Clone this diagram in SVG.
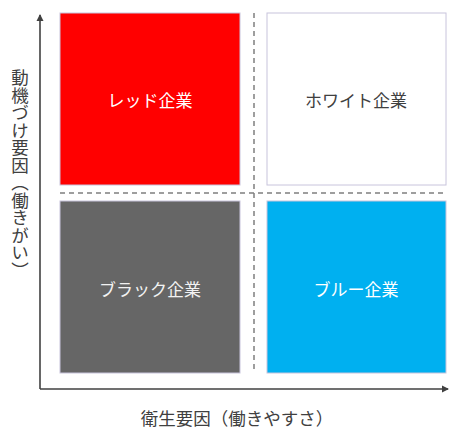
<svg xmlns="http://www.w3.org/2000/svg" width="452" height="429" viewBox="0 0 452 429">
<style>
text{font-family:"Noto Sans CJK JP","Noto Sans CJK SC",sans-serif;}
.lbl{font-size:17px;text-anchor:middle;}
.ax{stroke:#404040;stroke-width:1.6;fill:none;}
.dash{stroke:#7f7f7f;stroke-width:1.5;stroke-dasharray:5,4;fill:none;}
.box{stroke:#c8c4dc;stroke-width:1;}
.axlbl{font-size:17.5px;fill:#404040;}
</style>
<defs>
<marker id="arr" markerWidth="8" markerHeight="8" refX="6" refY="4" orient="auto" markerUnits="userSpaceOnUse">
<path d="M0,0.5 L7,4 L0,7.5 Z" fill="#404040"/>
</marker>
</defs>
<g id="connectors">
<line class="dash" x1="60" y1="193" x2="446" y2="193"/>
<line class="dash" x1="254" y1="13" x2="254" y2="373"/>
<line class="ax" x1="40" y1="389" x2="40" y2="15" marker-end="url(#arr)"/>
<line class="ax" x1="40" y1="389" x2="448" y2="389" marker-end="url(#arr)"/>
</g>
<g id="red">
<rect class="box" x="60" y="13" width="180" height="172" fill="#ff0000"/>
<text class="lbl" x="150" y="107" fill="#ffffff">レッド企業</text>
</g>
<g id="white">
<rect class="box" x="267" y="13" width="179" height="172" fill="#ffffff" stroke="#b4bcd4"/>
<text class="lbl" x="356" y="107" fill="#404040">ホワイト企業</text>
</g>
<g id="black">
<rect class="box" x="60" y="201" width="180" height="172" fill="#666666"/>
<text class="lbl" x="150" y="296" fill="#f2f2f2">ブラック企業</text>
</g>
<g id="blue">
<rect class="box" x="267" y="201" width="179" height="172" fill="#00b0f0"/>
<text class="lbl" x="356" y="296" fill="#ffffff">ブルー企業</text>
</g>
<g id="xlabel">
<text class="axlbl" x="237" y="425" text-anchor="middle">衛生要因（働きやすさ）</text>
</g>
<g id="ylabel">
<text class="axlbl" x="20" y="174" text-anchor="middle" style="writing-mode:vertical-rl;">動機づけ要因（働きがい）</text>
</g>
</svg>
